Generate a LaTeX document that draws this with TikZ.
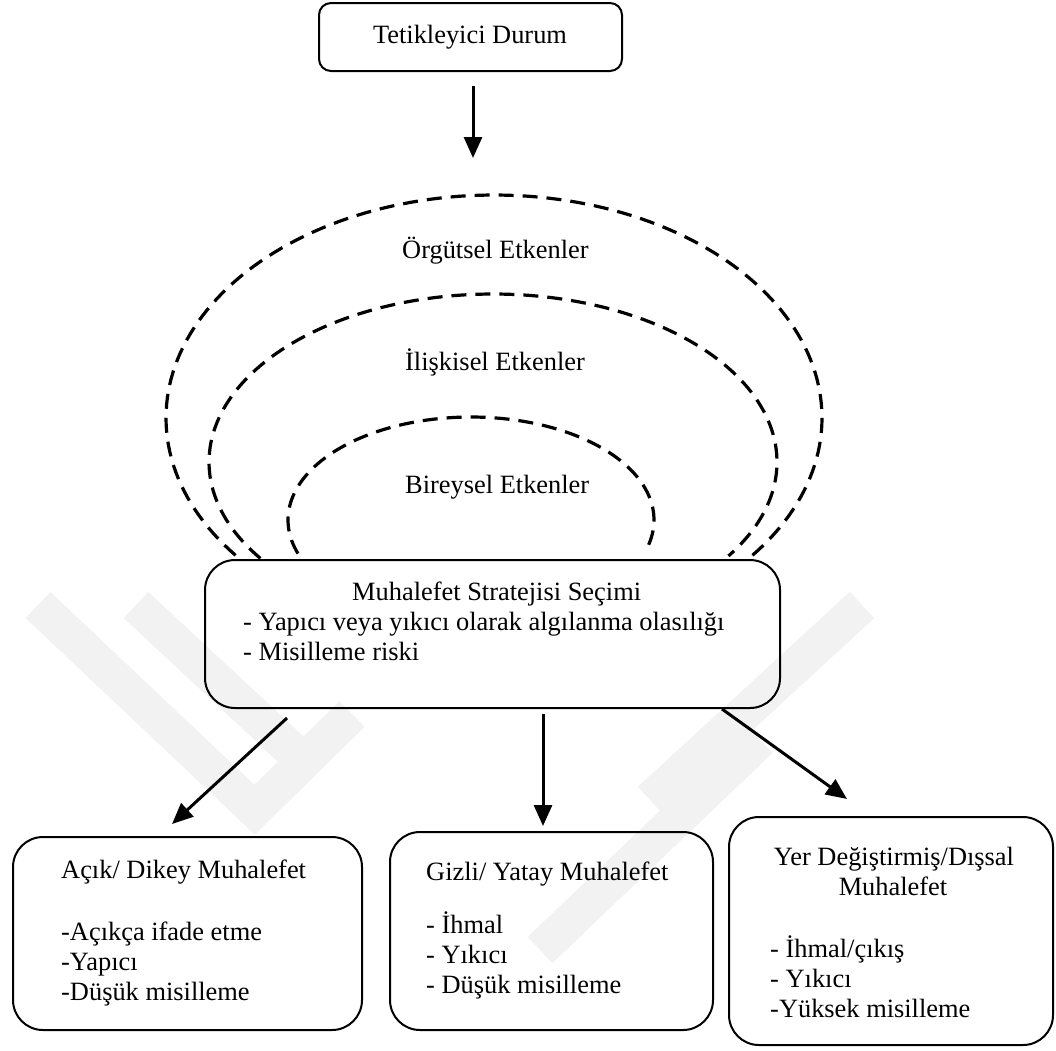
\documentclass[tikz,border=0pt]{standalone}
\usepackage{fontspec}
\setmainfont{Liberation Serif}
\usetikzlibrary{arrows.meta,calc}
\begin{document}
\begin{tikzpicture}[x=1pt,y=-1pt,
  box/.style={draw, line width=2pt, rounded corners=30pt, inner sep=0pt},
  lbl/.style={inner sep=0pt, anchor=base west, font=\fontsize{26.4}{30}\selectfont},
  clbl/.style={inner sep=0pt, anchor=base, font=\fontsize{26.4}{30}\selectfont},
  arr/.style={line width=3pt, -{Triangle[length=21pt,width=18pt]}},
  arcdash/.style={line width=3.2pt, dash pattern=on 15pt off 9pt},
  wm/.style={draw=black!5, line width=36pt, line cap=butt}]
\useasboundingbox (0,0) rectangle (1056,1050);
% faint watermark
\draw[wm] (38,605) -- (255,810);
\draw[wm] (136,605) -- (310,767);
\draw[wm] (242,822) -- (352,714);
\draw[wm] (862,605) -- (650,800);
\draw[wm] (760,740) -- (540,950);
% boxes
\node[box, rounded corners=12pt, minimum width=303pt, minimum height=68pt] (top) at (470.5,37) {};
\node[box, minimum width=575pt, minimum height=148pt] (mid) at (492.5,634) {};
\node[box, minimum width=349pt, minimum height=193pt] (b1) at (187.5,933.5) {};
\node[box, minimum width=323pt, minimum height=198pt] (b2) at (551.5,931) {};
\node[box, minimum width=324pt, minimum height=228pt] (b3) at (891,931) {};
% texts
\node[clbl] (toptxt) at (470,43) {Tetikleyici Durum};
\node[lbl] (org) at (402,258) {Örgütsel Etkenler};
\node[lbl] (ilis) at (405,370) {İlişkisel Etkenler};
\node[lbl] (bir) at (405,493) {Bireysel Etkenler};
\node[lbl] (m1) at (352,600) {Muhalefet Stratejisi Seçimi};
\node[lbl] (m2) at (243,630) {- Yapıcı veya yıkıcı olarak algılanma olasılığı};
\node[lbl] (m3) at (243,660) {- Misilleme riski};
\node[lbl] (b1a) at (61,878) {Açık/ Dikey Muhalefet};
\node[lbl] (b1b) at (61,940) {-Açıkça ifade etme};
\node[lbl] (b1c) at (61,970) {-Yapıcı};
\node[lbl] (b1d) at (61,1000) {-Düşük misilleme};
\node[lbl] (b2a) at (426,880) {Gizli/ Yatay Muhalefet};
\node[lbl] (b2b) at (426,933) {- İhmal};
\node[lbl] (b2c) at (426,963) {- Yıkıcı};
\node[lbl] (b2d) at (426,993) {- Düşük misilleme};
\node[clbl] (b3a) at (894,865) {Yer Değiştirmiş/Dışsal};
\node[clbl] (b3b) at (893,895) {Muhalefet};
\node[lbl] (b3c) at (770,957) {- İhmal/çıkış};
\node[lbl] (b3d) at (770,987) {- Yıkıcı};
\node[lbl] (b3e) at (770,1017) {-Yüksek misilleme};
% dashed arcs
\draw[arcdash] plot[domain=142:398, samples=150] ({494+328*cos(\x)},{418+223*sin(\x)});
\draw[arcdash] plot[domain=145:394, samples=150] ({493+284*cos(\x)},{462+168*sin(\x)});
\draw[arcdash] plot[domain=161:375, samples=120] ({471+183*cos(\x)},{520+103*sin(\x)});
% arrows
\coordinate (trig) at ($(top.south)+(2.5,86)$);
\draw[arr] ($(top.south)+(2.5,14)$) -- (trig);
\draw[arr] ($(mid.south west)+(83,9)$) -- ($(b1.north west)+(160,-12)$);
\draw[arr] ($(mid.south west)+(339,5)$) -- ($(b2.north west)+(154,-5)$);
\draw[arr] ($(mid.south west)+(518,0)$) -- ($(b3.north west)+(119,-17)$);
\end{tikzpicture}
\end{document}
